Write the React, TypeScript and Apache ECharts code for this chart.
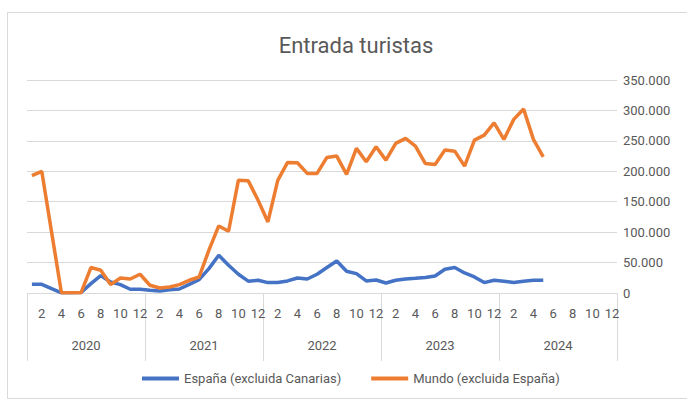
import React, { useEffect, useRef } from "react";
import * as echarts from "echarts";

const years = ["2020", "2021", "2022", "2023", "2024"];
const monthsPerYear = ["1", "2", "3", "4", "5", "6", "7", "8", "9", "10", "11", "12"];
const yTicks = [0, 50000, 100000, 150000, 200000, 250000, 300000, 350000];

// Jan 2020 – May 2024
const espana = [
  14300, 14300, 7200, 300, 300, 800, 15400, 28600, 18100, 13800, 6100, 6100,
  4400, 3300, 5500, 6600, 14300, 22000, 40100, 62000, 45600, 30800, 19500, 20900,
  17100, 17100, 19800, 24700, 23000, 30800, 41800, 52700, 35700, 31900, 19800, 21400,
  16500, 20900, 23000, 24200, 25500, 28000, 39000, 41800, 32900, 26300, 17100, 20900,
  19300, 17100, 19300, 20900, 20900,
];
const mundo = [
  193000, 200000, 100000, 500, 300, 500, 41800, 37400, 13800, 24700, 23000, 30800,
  12700, 8200, 9900, 13800, 20900, 26300, 70300, 110200, 101500, 185400, 184300, 152500,
  116800, 185000, 214600, 214000, 196500, 196500, 222800, 225000, 194800, 237600, 215600, 240300,
  218400, 245800, 254000, 241400, 212900, 211300, 234800, 233100, 208500, 251300, 259500, 279700,
  252400, 285300, 302300, 252400, 223800,
];

const categories: string[] = [];
years.forEach(() => monthsPerYear.forEach((m) => categories.push(m)));

const FONT = "Roboto, 'Liberation Sans', sans-serif";
const TEXT = "#595959";
const GRID = "#d9d9d9";

const fmt = (v: number) => String(v).replace(/\B(?=(\d{3})+(?!\d))/g, ".");

export default function App() {
  const ref = useRef<HTMLDivElement>(null);
  useEffect(() => {
    if (!ref.current) return;
    const chart = echarts.init(ref.current, null, { renderer: "svg" });
    chart.setOption({
      animation: false,
      backgroundColor: "#ffffff",
      textStyle: { fontFamily: FONT },
      graphic: [
        {
          type: "rect",
          shape: { x: 7.5, y: 12.5, width: 700, height: 386 },
          style: { fill: "none", stroke: GRID, lineWidth: 1 },
          silent: true,
        },
      ],
      title: {
        text: "Entrada turistas",
        left: 351,
        textAlign: "center",
        top: 29,
        textStyle: { fontFamily: FONT, fontSize: 22, fontWeight: "normal", color: TEXT },
      },
      legend: {
        bottom: 11,
        left: 137,
        icon: "rect",
        itemWidth: 37,
        itemHeight: 4,
        itemGap: 30,
        textStyle: { fontFamily: FONT, fontSize: 13, color: TEXT },
        data: ["España (excluida Canarias)", "Mundo (excluida España)"],
      },
      grid: { left: 27, right: 70, top: 80, bottom: 108, containLabel: false },
      xAxis: [
        {
          type: "category",
          data: categories,
          boundaryGap: true,
          position: "bottom",
          axisLine: { show: true, lineStyle: { color: GRID } },
          axisTick: { show: false },
          axisLabel: {
            interval: (i: number) => i % 2 === 1,
            color: TEXT,
            fontSize: 13,
            margin: 14,
          },
        },
        {
          type: "category",
          data: years,
          boundaryGap: true,
          position: "bottom",
          offset: 0,
          axisLine: { show: false },
          axisTick: { show: true, interval: 0, length: 68, lineStyle: { color: GRID } },
          axisLabel: { interval: 0, color: TEXT, fontSize: 13, margin: 46 },
        },
      ],
      yAxis: {
        type: "value",
        position: "right",
        min: yTicks[0],
        max: yTicks[yTicks.length - 1],
        interval: 50000,
        axisLine: { show: false },
        axisTick: { show: false },
        splitLine: { lineStyle: { color: GRID } },
        axisLabel: { color: TEXT, fontSize: 13, margin: 6, formatter: (v: number) => fmt(v) },
      },
      series: [
        {
          name: "España (excluida Canarias)",
          type: "line",
          data: espana,
          showSymbol: false,
          lineStyle: { color: "#4472C4", width: 3.5 },
          itemStyle: { color: "#4472C4" },
        },
        {
          name: "Mundo (excluida España)",
          type: "line",
          data: mundo,
          showSymbol: false,
          lineStyle: { color: "#ED7D31", width: 3.5 },
          itemStyle: { color: "#ED7D31" },
        },
      ],
    });
    return () => chart.dispose();
  }, []);
  return <div ref={ref} style={{ width: 687, height: 401, position: "absolute", left: 0, top: 0 }} />;
}
